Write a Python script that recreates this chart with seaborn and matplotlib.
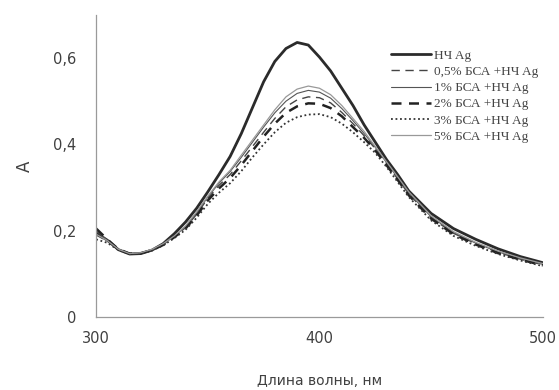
import pandas as pd
import matplotlib
matplotlib.use('Agg')
import matplotlib.pyplot as plt
import seaborn as sns

# wavelength grid, nm
wl = [300, 305, 310, 315, 320, 325, 330, 335, 340, 345, 350, 355, 360, 365, 370,
      375, 380, 385, 390, 395, 400, 405, 410, 415, 420, 425, 430, 435, 440, 450,
      460, 470, 480, 490, 500]

# absorbance
a_ag = [0.195, 0.178, 0.156, 0.146, 0.147, 0.155, 0.170, 0.193, 0.220, 0.252, 0.290, 0.330,
        0.372, 0.425, 0.485, 0.545, 0.592, 0.622, 0.636, 0.630, 0.602, 0.570, 0.530, 0.490,
        0.445, 0.405, 0.365, 0.330, 0.292, 0.240, 0.205, 0.180, 0.158, 0.140, 0.126]
a_05 = [0.190, 0.176, 0.156, 0.147, 0.148, 0.155, 0.168, 0.186, 0.207, 0.238, 0.275, 0.305,
        0.330, 0.362, 0.395, 0.428, 0.460, 0.487, 0.503, 0.510, 0.508, 0.496, 0.474, 0.448,
        0.420, 0.390, 0.356, 0.320, 0.285, 0.230, 0.194, 0.170, 0.150, 0.134, 0.121]
a_1 = [0.200, 0.178, 0.157, 0.147, 0.148, 0.156, 0.169, 0.187, 0.209, 0.241, 0.278, 0.310,
       0.337, 0.370, 0.405, 0.440, 0.473, 0.500, 0.518, 0.525, 0.521, 0.507, 0.483, 0.455,
       0.425, 0.393, 0.358, 0.323, 0.288, 0.232, 0.196, 0.171, 0.151, 0.135, 0.122]
a_2 = [0.205, 0.180, 0.157, 0.147, 0.148, 0.155, 0.167, 0.185, 0.205, 0.235, 0.270, 0.298,
       0.322, 0.352, 0.385, 0.418, 0.448, 0.473, 0.488, 0.495, 0.494, 0.484, 0.465, 0.440,
       0.415, 0.386, 0.352, 0.318, 0.282, 0.228, 0.192, 0.168, 0.148, 0.133, 0.120]
a_3 = [0.180, 0.172, 0.155, 0.146, 0.147, 0.154, 0.166, 0.183, 0.202, 0.230, 0.262, 0.288,
       0.310, 0.338, 0.370, 0.400, 0.428, 0.450, 0.463, 0.469, 0.470, 0.463, 0.448, 0.428,
       0.405, 0.380, 0.348, 0.313, 0.278, 0.224, 0.188, 0.165, 0.146, 0.131, 0.118]
a_5 = [0.192, 0.177, 0.157, 0.147, 0.149, 0.157, 0.170, 0.188, 0.211, 0.244, 0.280, 0.313,
       0.340, 0.375, 0.410, 0.445, 0.480, 0.510, 0.528, 0.535, 0.530, 0.515, 0.490, 0.460,
       0.430, 0.395, 0.360, 0.325, 0.290, 0.235, 0.198, 0.173, 0.153, 0.137, 0.124]

labels = ['НЧ Ag', '0,5% БСА +НЧ Ag', '1% БСА +НЧ Ag',
          '2% БСА +НЧ Ag', '3% БСА +НЧ Ag', '5% БСА +НЧ Ag']
series = [a_ag, a_05, a_1, a_2, a_3, a_5]

styles = [
    dict(color='#2b2b2b', lw=2.0, ls='-'),
    dict(color='#444444', lw=1.0, ls=(0, (6, 4))),
    dict(color='#555555', lw=0.8, ls='-'),
    dict(color='#222222', lw=1.8, ls=(0, (4, 3))),
    dict(color='#333333', lw=1.3, ls=(0, (1, 1.5))),
    dict(color='#999999', lw=0.9, ls='-'),
]

sns.set_style('white')
plt.rcParams['font.family'] = ['DejaVu Sans']

fig = plt.figure(figsize=(5.59, 3.9), dpi=100)
ax = fig.add_axes([0.172, 0.187, 0.799, 0.775])

for y, lab, st in zip(series, labels, styles):
    sns.lineplot(x=wl, y=y, ax=ax, label=lab, color=st['color'],
                 linewidth=st['lw'], linestyle=st['ls'])

ax.set_xlim(300, 500)
ax.set_ylim(0, 0.7)
ax.set_xticks([300, 400, 500])
ax.set_yticks([0, 0.2, 0.4, 0.6])
ax.set_yticklabels(['0', '0,2', '0,4', '0,6'])
ax.tick_params(axis='both', colors='#9a9a9a', labelcolor='#404040',
               labelsize=10.5, length=4, width=0.8, direction='out')
ax.tick_params(axis='x', pad=6)
ax.tick_params(axis='y', pad=10)

for s in ['top', 'right']:
    ax.spines[s].set_visible(False)
for s in ['left', 'bottom']:
    ax.spines[s].set_color('#9a9a9a')
    ax.spines[s].set_linewidth(0.9)

ax.set_ylabel('A', fontsize=12, color='#404040', labelpad=14)
ax.set_xlabel('Длина волны, нм', fontsize=10, color='#404040', labelpad=20)

leg = ax.legend(loc='upper left', bbox_to_anchor=(0.66, 0.885), frameon=False,
                prop={'family': 'Liberation Serif', 'size': 9.5},
                handlelength=3.0, labelspacing=0.3, handletextpad=0.3,
                borderpad=0, borderaxespad=0)
for t in leg.get_texts():
    t.set_color('#444444')

fig.savefig('out.png', dpi=100)
